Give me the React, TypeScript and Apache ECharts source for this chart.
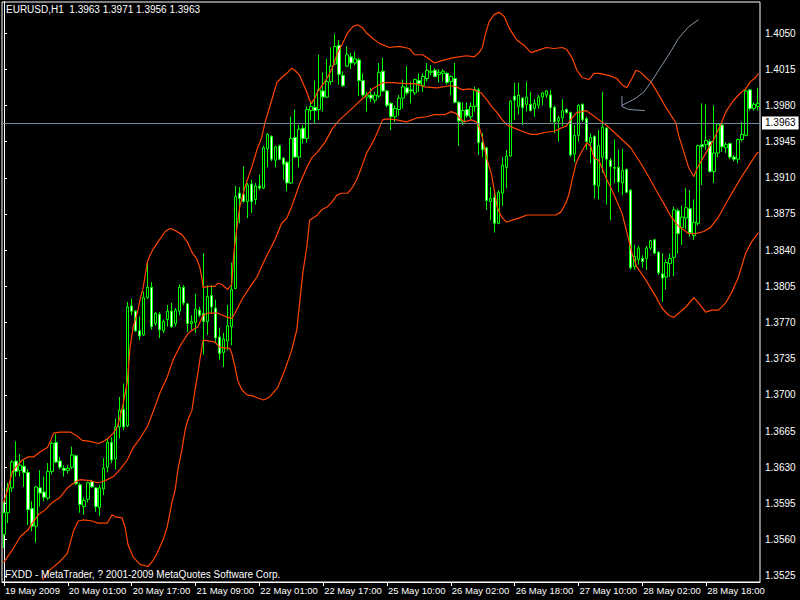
import React, { useEffect, useRef } from 'react';
import * as echarts from 'echarts';

const symbolLabel = 'EURUSD,H1';
const headerValues = ['1.3963', '1.3971', '1.3956', '1.3963'];
const bidPrice = 1.3963;
const footerText = 'FXDD - MetaTrader, ? 2001-2009 MetaQuotes Software Corp.';
const priceTicks = [1.3525, 1.356, 1.3595, 1.363, 1.3665, 1.37, 1.3735, 1.377, 1.3805, 1.384, 1.3875, 1.391, 1.3945, 1.398, 1.4015, 1.405];
const firstBarUTC = Date.UTC(2009, 4, 19, 9);
const barCount = 190;
const labelEvery = 16;
const MONTHS = ['Jan', 'Feb', 'Mar', 'Apr', 'May', 'Jun', 'Jul', 'Aug', 'Sep', 'Oct', 'Nov', 'Dec'];

// [open, close, low, high]
const ohlc: number[][] = [
  [1.3565, 1.3586, 1.3552, 1.3596], [1.3586, 1.3610, 1.3576, 1.3615], [1.3610, 1.3635, 1.3606, 1.3637], [1.3636, 1.3626, 1.3621, 1.3655],
  [1.3627, 1.3632, 1.3621, 1.3643], [1.3631, 1.3625, 1.3611, 1.3637], [1.3625, 1.3589, 1.3574, 1.3628], [1.3590, 1.3573, 1.3568, 1.3597],
  [1.3573, 1.3611, 1.3557, 1.3612], [1.3610, 1.3605, 1.3592, 1.3627], [1.3606, 1.3601, 1.3597, 1.3621], [1.3600, 1.3626, 1.3598, 1.3634],
  [1.3626, 1.3653, 1.3623, 1.3655], [1.3654, 1.3635, 1.3634, 1.3662], [1.3636, 1.3630, 1.3628, 1.3640], [1.3629, 1.3627, 1.3621, 1.3632],
  [1.3627, 1.3629, 1.3624, 1.3632], [1.3630, 1.3642, 1.3628, 1.3650], [1.3641, 1.3614, 1.3613, 1.3642], [1.3613, 1.3594, 1.3586, 1.3615],
  [1.3592, 1.3598, 1.3584, 1.3601], [1.3599, 1.3615, 1.3596, 1.3616], [1.3616, 1.3611, 1.3610, 1.3618], [1.3610, 1.3592, 1.3587, 1.3611],
  [1.3591, 1.3610, 1.3583, 1.3613], [1.3609, 1.3629, 1.3603, 1.3639], [1.3630, 1.3654, 1.3625, 1.3658], [1.3654, 1.3637, 1.3634, 1.3659],
  [1.3638, 1.3669, 1.3628, 1.3677], [1.3669, 1.3685, 1.3658, 1.3698], [1.3686, 1.3669, 1.3666, 1.3711], [1.3670, 1.3785, 1.3669, 1.3790],
  [1.3786, 1.3781, 1.3777, 1.3793], [1.3781, 1.3762, 1.3761, 1.3782], [1.3762, 1.3757, 1.3753, 1.3776], [1.3758, 1.3794, 1.3757, 1.3800],
  [1.3794, 1.3804, 1.3793, 1.3828], [1.3804, 1.3766, 1.3763, 1.3809], [1.3769, 1.3779, 1.3767, 1.3780], [1.3778, 1.3763, 1.3755, 1.3780],
  [1.3762, 1.3771, 1.3760, 1.3773], [1.3773, 1.3781, 1.3766, 1.3787], [1.3781, 1.3766, 1.3765, 1.3789], [1.3769, 1.3782, 1.3766, 1.3784],
  [1.3781, 1.3804, 1.3777, 1.3807], [1.3804, 1.3789, 1.3787, 1.3806], [1.3788, 1.3769, 1.3761, 1.3789], [1.3769, 1.3771, 1.3763, 1.3777],
  [1.3770, 1.3783, 1.3760, 1.3798], [1.3782, 1.3777, 1.3775, 1.3785], [1.3779, 1.3771, 1.3739, 1.3837], [1.3771, 1.3795, 1.3758, 1.3806],
  [1.3796, 1.3785, 1.3779, 1.3806], [1.3784, 1.3755, 1.3750, 1.3792], [1.3756, 1.3740, 1.3734, 1.3765], [1.3741, 1.3754, 1.3727, 1.3760],
  [1.3752, 1.3767, 1.3743, 1.3787], [1.3766, 1.3802, 1.3748, 1.3828], [1.3803, 1.3892, 1.3802, 1.3902], [1.3895, 1.3890, 1.3866, 1.3901],
  [1.3894, 1.3887, 1.3886, 1.3921], [1.3887, 1.3903, 1.3871, 1.3905], [1.3904, 1.3887, 1.3876, 1.3908], [1.3889, 1.3902, 1.3884, 1.3905],
  [1.3902, 1.3900, 1.3898, 1.3913], [1.3900, 1.3939, 1.3899, 1.3941], [1.3938, 1.3952, 1.3920, 1.3953], [1.3950, 1.3928, 1.3926, 1.3951],
  [1.3927, 1.3940, 1.3920, 1.3941], [1.3941, 1.3928, 1.3927, 1.3942], [1.3929, 1.3923, 1.3908, 1.3930], [1.3925, 1.3905, 1.3897, 1.3926],
  [1.3905, 1.3948, 1.3904, 1.3969], [1.3949, 1.3930, 1.3929, 1.3976], [1.3930, 1.3957, 1.3920, 1.3961], [1.3958, 1.3948, 1.3943, 1.3961],
  [1.3948, 1.3976, 1.3944, 1.3979], [1.3975, 1.3979, 1.3966, 1.3983], [1.3978, 1.3975, 1.3962, 1.4004], [1.3976, 1.3995, 1.3966, 1.4029],
  [1.3994, 1.3988, 1.3974, 1.4012], [1.3988, 1.4003, 1.3987, 1.4025], [1.4003, 1.4018, 1.4000, 1.4036], [1.4020, 1.4037, 1.4019, 1.4049],
  [1.4038, 1.4010, 1.4000, 1.4043], [1.4009, 1.3999, 1.3998, 1.4013], [1.4018, 1.4029, 1.4017, 1.4037], [1.4027, 1.4021, 1.4015, 1.4031],
  [1.4021, 1.4025, 1.4019, 1.4032], [1.4024, 1.4004, 1.3989, 1.4026], [1.4004, 1.3990, 1.3988, 1.4011], [1.3988, 1.3990, 1.3974, 1.3993],
  [1.3990, 1.3987, 1.3983, 1.3997], [1.3985, 1.3990, 1.3982, 1.3993], [1.3989, 1.4012, 1.3987, 1.4021], [1.4013, 1.3994, 1.3993, 1.4026],
  [1.3994, 1.3980, 1.3978, 1.3995], [1.3982, 1.3969, 1.3956, 1.3983], [1.3969, 1.3977, 1.3964, 1.3980], [1.3976, 1.3987, 1.3970, 1.3990],
  [1.3987, 1.3998, 1.3977, 1.4005], [1.3997, 1.3992, 1.3990, 1.4018], [1.3995, 1.3994, 1.3982, 1.4003], [1.3992, 1.4005, 1.3990, 1.4006],
  [1.4004, 1.4001, 1.3993, 1.4011], [1.3999, 1.4008, 1.3993, 1.4011], [1.4006, 1.4014, 1.4003, 1.4021], [1.4012, 1.4013, 1.4009, 1.4019],
  [1.4014, 1.4008, 1.4007, 1.4016], [1.4010, 1.4012, 1.4002, 1.4015], [1.4011, 1.4013, 1.4003, 1.4015], [1.4011, 1.4002, 1.4000, 1.4012],
  [1.4003, 1.4008, 1.3990, 1.4009], [1.4006, 1.3983, 1.3982, 1.4021], [1.3983, 1.3965, 1.3941, 1.3984], [1.3964, 1.3975, 1.3961, 1.3983],
  [1.3976, 1.3970, 1.3968, 1.3983], [1.3969, 1.3979, 1.3966, 1.3983], [1.3979, 1.3995, 1.3974, 1.3998], [1.3995, 1.3944, 1.3932, 1.3997],
  [1.3944, 1.3937, 1.3930, 1.3953], [1.3939, 1.3888, 1.3879, 1.3940], [1.3887, 1.3890, 1.3869, 1.3901], [1.3891, 1.3866, 1.3857, 1.3896],
  [1.3866, 1.3896, 1.3865, 1.3898], [1.3895, 1.3922, 1.3883, 1.3930], [1.3920, 1.3931, 1.3900, 1.3937], [1.3931, 1.3984, 1.3930, 1.3985],
  [1.3989, 1.3985, 1.3966, 1.4002], [1.3979, 1.3990, 1.3971, 1.4002], [1.3987, 1.3978, 1.3961, 1.3988], [1.3981, 1.3988, 1.3974, 1.4003],
  [1.3981, 1.3975, 1.3974, 1.3993], [1.3977, 1.3982, 1.3969, 1.3986], [1.3980, 1.3988, 1.3977, 1.3990], [1.3988, 1.3992, 1.3980, 1.3993],
  [1.3990, 1.3994, 1.3987, 1.3995], [1.3990, 1.3978, 1.3964, 1.3995], [1.3978, 1.3964, 1.3953, 1.3980], [1.3965, 1.3968, 1.3945, 1.3970],
  [1.3968, 1.3975, 1.3960, 1.3986], [1.3976, 1.3973, 1.3972, 1.3977], [1.3973, 1.3932, 1.3930, 1.3974], [1.3933, 1.3951, 1.3925, 1.3961],
  [1.3951, 1.3980, 1.3945, 1.3981], [1.3981, 1.3966, 1.3964, 1.3982], [1.3967, 1.3945, 1.3937, 1.3969], [1.3944, 1.3949, 1.3924, 1.3953],
  [1.3950, 1.3903, 1.3890, 1.3951], [1.3902, 1.3941, 1.3889, 1.3956], [1.3930, 1.3959, 1.3915, 1.3993], [1.3958, 1.3928, 1.3884, 1.3959],
  [1.3927, 1.3921, 1.3869, 1.3929], [1.3919, 1.3920, 1.3905, 1.3947], [1.3920, 1.3906, 1.3896, 1.3937], [1.3905, 1.3917, 1.3893, 1.3938],
  [1.3918, 1.3896, 1.3895, 1.3919], [1.3898, 1.3823, 1.3821, 1.3899], [1.3824, 1.3834, 1.3821, 1.3845], [1.3831, 1.3842, 1.3826, 1.3844],
  [1.3832, 1.3829, 1.3823, 1.3835], [1.3832, 1.3842, 1.3821, 1.3844], [1.3842, 1.3849, 1.3840, 1.3850], [1.3850, 1.3837, 1.3836, 1.3851],
  [1.3838, 1.3818, 1.3816, 1.3839], [1.3817, 1.3813, 1.3790, 1.3837], [1.3814, 1.3828, 1.3802, 1.3831], [1.3827, 1.3832, 1.3814, 1.3837],
  [1.3833, 1.3879, 1.3815, 1.3882], [1.3878, 1.3856, 1.3837, 1.3880], [1.3862, 1.3872, 1.3845, 1.3883], [1.3871, 1.3881, 1.3860, 1.3900],
  [1.3880, 1.3857, 1.3853, 1.3898], [1.3854, 1.3867, 1.3850, 1.3889], [1.3866, 1.3941, 1.3864, 1.3942], [1.3942, 1.3940, 1.3903, 1.3982],
  [1.3942, 1.3946, 1.3937, 1.3981], [1.3945, 1.3916, 1.3915, 1.3947], [1.3916, 1.3934, 1.3905, 1.3980], [1.3934, 1.3962, 1.3930, 1.3963],
  [1.3961, 1.3940, 1.3935, 1.3962], [1.3939, 1.3942, 1.3934, 1.3944], [1.3943, 1.3930, 1.3928, 1.3944], [1.3930, 1.3928, 1.3926, 1.3932],
  [1.3928, 1.3947, 1.3924, 1.3948], [1.3947, 1.3952, 1.3945, 1.3964], [1.3951, 1.3994, 1.3950, 1.3996], [1.3995, 1.3977, 1.3975, 1.3996],
  [1.3977, 1.3981, 1.3975, 1.3983], [1.3979, 1.3982, 1.3975, 1.3997],
];

// Bollinger bands: [bar index, price]
const upperBand: number[][] = [
  [-0.1, 1.3596], [0.9, 1.3608], [2.1, 1.3626], [3.4, 1.3632], [4.6, 1.3637], [6.1, 1.3640], [7.4, 1.3640], [9.1, 1.3645],
  [10.9, 1.3649], [11.6, 1.3655], [12.4, 1.3663], [14.1, 1.3664], [16.6, 1.3664], [18.4, 1.3660], [19.6, 1.3656], [21.6, 1.3655],
  [23.6, 1.3653], [24.9, 1.3655], [26.1, 1.3658], [27.4, 1.3663], [28.4, 1.3669], [29.1, 1.3679], [29.9, 1.3692], [30.9, 1.3712],
  [31.6, 1.3746], [32.4, 1.3766], [33.4, 1.3779], [34.1, 1.3792], [34.9, 1.3804], [35.9, 1.3828], [36.6, 1.3835], [37.4, 1.3841],
  [38.6, 1.3848], [40.4, 1.3858], [41.6, 1.3861], [42.9, 1.3859], [44.6, 1.3855], [46.1, 1.3847], [47.1, 1.3838], [48.4, 1.3831],
  [49.1, 1.3823], [49.6, 1.3813], [49.9, 1.3804], [51.6, 1.3805], [52.9, 1.3805], [53.6, 1.3808], [54.6, 1.3807], [55.4, 1.3804],
  [56.1, 1.3802], [57.1, 1.3807], [57.6, 1.3837], [58.4, 1.3862], [59.1, 1.3882], [60.4, 1.3901], [62.1, 1.3920], [63.4, 1.3937],
  [64.6, 1.3949], [65.4, 1.3963], [67.1, 1.3985], [68.4, 1.4002], [69.6, 1.4007], [70.9, 1.4011], [72.1, 1.4016], [72.9, 1.4014],
  [74.1, 1.4009], [74.9, 1.4002], [75.9, 1.3993], [76.6, 1.3985], [77.1, 1.3982], [77.9, 1.3987], [78.6, 1.3993], [79.9, 1.4000],
  [81.1, 1.4007], [82.4, 1.4017], [83.6, 1.4031], [84.9, 1.4040], [86.1, 1.4050], [87.4, 1.4056], [88.6, 1.4058], [89.9, 1.4055],
  [90.9, 1.4050], [92.4, 1.4045], [94.1, 1.4040], [96.6, 1.4036], [99.1, 1.4037], [101.6, 1.4035], [102.9, 1.4029], [104.9, 1.4029],
  [106.1, 1.4026], [107.9, 1.4021], [109.6, 1.4023], [112.4, 1.4026], [115.9, 1.4028], [117.9, 1.4027], [119.1, 1.4031], [119.9, 1.4036],
  [120.6, 1.4048], [121.6, 1.4061], [122.9, 1.4068], [124.1, 1.4070], [125.4, 1.4066], [126.6, 1.4055], [127.9, 1.4047], [128.6, 1.4043],
  [130.4, 1.4038], [132.1, 1.4031], [133.6, 1.4033], [135.9, 1.4036], [137.9, 1.4035], [139.9, 1.4036], [141.1, 1.4034], [142.4, 1.4026],
  [143.6, 1.4014], [144.9, 1.4007], [146.6, 1.4005], [147.9, 1.4011], [149.1, 1.4011], [151.6, 1.4009], [153.6, 1.4006], [154.9, 1.4000],
  [156.1, 1.3997], [157.4, 1.4006], [158.4, 1.4014], [159.6, 1.4012], [160.9, 1.4007], [162.1, 1.4003], [163.4, 1.3995], [164.6, 1.3987],
  [165.9, 1.3978], [167.1, 1.3971], [168.4, 1.3963], [169.1, 1.3951], [170.4, 1.3935], [171.6, 1.3920], [172.9, 1.3911], [173.6, 1.3918],
  [174.6, 1.3925], [176.1, 1.3935], [177.9, 1.3947], [179.6, 1.3961], [181.1, 1.3975], [182.9, 1.3985], [184.6, 1.3992], [185.9, 1.3996],
  [187.1, 1.4003], [188.4, 1.4007], [189.1, 1.4011],
];

const middleBand: number[][] = [
  [-0.1, 1.3538], [2.1, 1.3550], [4.1, 1.3563], [5.9, 1.3569], [7.1, 1.3576], [8.6, 1.3584], [10.4, 1.3589], [12.1, 1.3596],
  [14.1, 1.3601], [15.9, 1.3610], [17.9, 1.3616], [19.1, 1.3618], [21.6, 1.3617], [23.4, 1.3615], [24.6, 1.3616], [25.9, 1.3618],
  [27.4, 1.3621], [29.1, 1.3628], [30.9, 1.3637], [32.4, 1.3649], [34.1, 1.3658], [35.9, 1.3669], [37.4, 1.3684], [39.1, 1.3702],
  [40.9, 1.3717], [42.4, 1.3734], [44.1, 1.3747], [45.9, 1.3758], [46.6, 1.3761], [48.6, 1.3766], [49.9, 1.3777], [51.1, 1.3779],
  [53.6, 1.3779], [56.1, 1.3775], [57.1, 1.3774], [57.9, 1.3779], [59.6, 1.3792], [61.6, 1.3804], [63.4, 1.3814], [65.4, 1.3831],
  [67.9, 1.3850], [69.6, 1.3866], [70.9, 1.3871], [72.1, 1.3882], [74.1, 1.3904], [75.9, 1.3920], [77.1, 1.3929], [78.6, 1.3935],
  [80.4, 1.3944], [82.4, 1.3958], [84.1, 1.3966], [86.1, 1.3973], [88.6, 1.3982], [90.9, 1.3990], [92.4, 1.3996], [94.9, 1.4002],
  [97.4, 1.4002], [100.9, 1.4001], [102.9, 1.4001], [105.4, 1.3998], [108.6, 1.3997], [111.6, 1.3999], [113.4, 1.3998], [114.9, 1.3995],
  [116.6, 1.3996], [117.9, 1.3995], [119.6, 1.3992], [121.1, 1.3985], [122.4, 1.3978], [123.6, 1.3973], [124.9, 1.3966], [126.1, 1.3961],
  [127.9, 1.3958], [129.9, 1.3955], [132.1, 1.3952], [133.4, 1.3952], [135.9, 1.3954], [137.9, 1.3955], [139.6, 1.3958], [140.9, 1.3960],
  [142.4, 1.3968], [143.6, 1.3973], [144.9, 1.3974], [145.9, 1.3975], [147.4, 1.3971], [149.1, 1.3966], [150.9, 1.3961], [152.4, 1.3956],
  [154.9, 1.3947], [157.1, 1.3939], [159.6, 1.3924], [161.6, 1.3911], [163.6, 1.3897], [165.4, 1.3885], [167.1, 1.3873], [169.1, 1.3863],
  [171.6, 1.3856], [173.4, 1.3856], [175.4, 1.3858], [177.1, 1.3862], [179.1, 1.3872], [181.1, 1.3886], [182.9, 1.3898], [184.9, 1.3911],
  [186.6, 1.3921], [188.4, 1.3932], [189.1, 1.3935],
];

const lowerBand: number[][] = [
  [9.6, 1.3521], [11.6, 1.3531], [14.1, 1.3539], [15.9, 1.3547], [17.4, 1.3568], [18.6, 1.3578], [19.9, 1.3579], [22.1, 1.3578],
  [23.6, 1.3576], [25.9, 1.3576], [27.1, 1.3584], [27.9, 1.3582], [29.6, 1.3581], [30.4, 1.3571], [31.1, 1.3555], [32.4, 1.3543],
  [34.1, 1.3536], [36.1, 1.3534], [37.4, 1.3540], [38.4, 1.3547], [39.1, 1.3553], [39.9, 1.3560], [40.9, 1.3572], [42.1, 1.3596],
  [42.9, 1.3608], [43.6, 1.3628], [44.6, 1.3647], [45.4, 1.3666], [46.1, 1.3676], [47.1, 1.3685], [47.9, 1.3705], [48.6, 1.3721],
  [49.1, 1.3734], [49.6, 1.3746], [49.9, 1.3753], [51.6, 1.3752], [52.9, 1.3751], [54.1, 1.3746], [56.6, 1.3745], [57.1, 1.3740],
  [57.9, 1.3727], [58.6, 1.3714], [59.6, 1.3705], [60.9, 1.3700], [62.4, 1.3699], [63.6, 1.3697], [65.1, 1.3695], [66.6, 1.3698],
  [68.6, 1.3707], [70.4, 1.3724], [72.1, 1.3743], [73.4, 1.3763], [74.1, 1.3789], [74.9, 1.3818], [75.9, 1.3843], [76.6, 1.3869],
  [78.6, 1.3874], [79.6, 1.3879], [81.1, 1.3882], [82.1, 1.3886], [83.4, 1.3893], [84.6, 1.3895], [86.1, 1.3895], [87.4, 1.3901],
  [88.4, 1.3908], [89.6, 1.3920], [90.9, 1.3934], [92.1, 1.3942], [93.4, 1.3952], [94.9, 1.3966], [95.9, 1.3967], [98.4, 1.3966],
  [100.9, 1.3964], [103.6, 1.3968], [105.9, 1.3969], [107.9, 1.3971], [110.4, 1.3971], [112.1, 1.3974], [113.4, 1.3972], [114.1, 1.3968],
  [115.4, 1.3964], [117.1, 1.3966], [118.4, 1.3964], [119.1, 1.3959], [119.9, 1.3949], [121.1, 1.3927], [122.1, 1.3915], [122.9, 1.3898],
  [123.6, 1.3882], [124.6, 1.3873], [125.9, 1.3867], [127.4, 1.3869], [129.1, 1.3871], [131.1, 1.3874], [138.4, 1.3874], [139.6, 1.3877],
  [140.9, 1.3886], [141.6, 1.3894], [142.4, 1.3908], [143.4, 1.3924], [144.6, 1.3934], [146.1, 1.3944], [147.1, 1.3940], [147.9, 1.3929],
  [149.1, 1.3927], [150.9, 1.3910], [152.4, 1.3898], [154.9, 1.3876], [156.6, 1.3850], [157.4, 1.3837], [158.6, 1.3824], [160.9, 1.3811],
  [163.4, 1.3795], [164.9, 1.3784], [166.6, 1.3777], [167.9, 1.3775], [169.1, 1.3779], [170.9, 1.3785], [172.9, 1.3794], [174.1, 1.3789],
  [175.9, 1.3780], [177.4, 1.3782], [179.1, 1.3782], [180.9, 1.3789], [182.4, 1.3799], [184.1, 1.3814], [185.9, 1.3837], [187.4, 1.3848],
  [189.1, 1.3857],
];

// hand-drawn arrow (trend line object) in chart coordinates: [bar index, price]
const arrowShaft: number[][] = [
  [174.1, 1.4063], [171.6, 1.4056], [169.1, 1.4045], [167.1, 1.4032], [164.1, 1.4014], [162.1, 1.4002],
  [160.4, 1.3993], [158.4, 1.3987], [154.9, 1.3980],
];
const arrowHead: number[][] = [[154.9, 1.3989], [154.9, 1.3979], [156.6, 1.3976], [160.6, 1.3975]];

function buildCategories(): string[] {
  const out: string[] = [];
  let t = firstBarUTC;
  while (out.length < barCount) {
    const d = new Date(t);
    const wd = d.getUTCDay();
    const h = d.getUTCHours();
    const closed = wd === 6 || wd === 0 || (wd === 5 && h === 23);
    if (!closed) {
      out.push(`${d.getUTCDate()} ${MONTHS[d.getUTCMonth()]} ${String(h).padStart(2, '0')}:00`);
    }
    t += 3600000;
  }
  return out;
}

const FONT = '"Liberation Sans", Arial, sans-serif';
const BAND_COLOR = '#ff4500';
const CANDLE_GREEN = '#00ff00';

export default function App() {
  const ref = useRef<HTMLDivElement>(null);

  useEffect(() => {
    document.body.style.margin = '0';
    document.body.style.background = '#000';
    if (!ref.current) return;
    const chart = echarts.init(ref.current, undefined, { renderer: 'svg' });
    const categories = buildCategories();
    const firstDate = new Date(firstBarUTC);
    const firstLabel = `${firstDate.getUTCDate()} ${MONTHS[firstDate.getUTCMonth()]} ${firstDate.getUTCFullYear()}`;
    const showTick = (i: number) => i % labelEvery === 0;

    const bandSeries = (name: string, data: number[][], extra: any = {}) => ({
      name,
      type: 'line',
      xAxisIndex: 1,
      yAxisIndex: 0,
      data,
      symbol: 'none',
      showSymbol: false,
      silent: true,
      z: 3,
      lineStyle: { color: BAND_COLOR, width: 1.2 },
      ...extra,
    });

    const bidMarkLine = {
      silent: true,
      symbol: ['none', 'none'],
      precision: 4,
      animation: false,
      lineStyle: { color: '#778899', type: 'solid', width: 1 },
      label: {
        show: true,
        position: 'end',
        distance: 2,
        formatter: () => bidPrice.toFixed(4),
        color: '#000',
        backgroundColor: '#fff',
        padding: [2, 3, 1, 3],
        fontSize: 10,
        fontFamily: FONT,
      },
      data: [{ yAxis: bidPrice }],
    };

    const option: any = {
      animation: false,
      backgroundColor: '#000',
      textStyle: { fontFamily: FONT },
      grid: {
        left: 2, right: 40, top: 2, bottom: 18,
        show: true, borderColor: '#fff', borderWidth: 1, backgroundColor: '#000',
      },
      xAxis: [
        {
          type: 'category',
          data: categories,
          boundaryGap: true,
          axisLine: { show: true, lineStyle: { color: '#fff', width: 1 } },
          axisTick: { show: true, alignWithLabel: true, interval: showTick, length: 4, lineStyle: { color: '#fff' } },
          axisLabel: {
            show: true,
            interval: showTick,
            color: '#fff',
            fontSize: 9.5,
            fontFamily: FONT,
            align: 'left',
            margin: 3,
            padding: [0, 0, 0, 1],
            formatter: (v: string, i: number) => (i === 0 ? firstLabel : v),
          },
          splitLine: { show: false },
        },
        { type: 'value', min: -0.5, max: barCount - 0.5, show: false },
      ],
      yAxis: {
        type: 'value',
        position: 'right',
        min: 1.3519,
        max: 1.408,
        axisLine: { show: true, lineStyle: { color: '#fff', width: 1 } },
        axisTick: { show: true, customValues: priceTicks, length: 3, lineStyle: { color: '#fff' } },
        axisLabel: {
          show: true,
          customValues: priceTicks,
          color: '#fff',
          fontSize: 10,
          fontFamily: FONT,
          margin: 5,
          formatter: (v: number) => v.toFixed(4),
        },
        splitLine: { show: false },
      },
      series: [
        {
          name: 'EURUSD',
          type: 'candlestick',
          xAxisIndex: 0,
          yAxisIndex: 0,
          data: ohlc,
          barWidth: 3,
          silent: true,
          z: 2,
          itemStyle: {
            color: '#000',
            color0: '#fff',
            borderColor: CANDLE_GREEN,
            borderColor0: CANDLE_GREEN,
            borderColorDoji: CANDLE_GREEN,
            borderWidth: 1,
          },
        },
        bandSeries('Upper band', upperBand),
        bandSeries('Middle band', middleBand, { markLine: bidMarkLine }),
        bandSeries('Lower band', lowerBand),
        {
          name: 'Arrow shaft', type: 'line', xAxisIndex: 1, yAxisIndex: 0, data: arrowShaft,
          symbol: 'none', silent: true, z: 4, lineStyle: { color: '#8494a8', width: 1 },
        },
        {
          name: 'Arrow head', type: 'line', xAxisIndex: 1, yAxisIndex: 0, data: arrowHead,
          symbol: 'none', silent: true, z: 4, lineStyle: { color: '#8494a8', width: 1 },
        },
      ],
      graphic: [
        {
          type: 'text', left: 6, top: 4, silent: true, z: 100,
          style: { text: `${symbolLabel}  ${headerValues.join(' ')}`, fill: '#fff', font: `10px ${FONT}` },
        },
        {
          type: 'text', left: 5, top: 569, silent: true, z: 100,
          style: { text: footerText, fill: '#fff', font: `10px ${FONT}` },
        },
      ],
    };

    chart.setOption(option);
    return () => chart.dispose();
  }, []);

  return <div ref={ref} style={{ position: 'fixed', left: 0, top: 0, width: 800, height: 600 }} />;
}
